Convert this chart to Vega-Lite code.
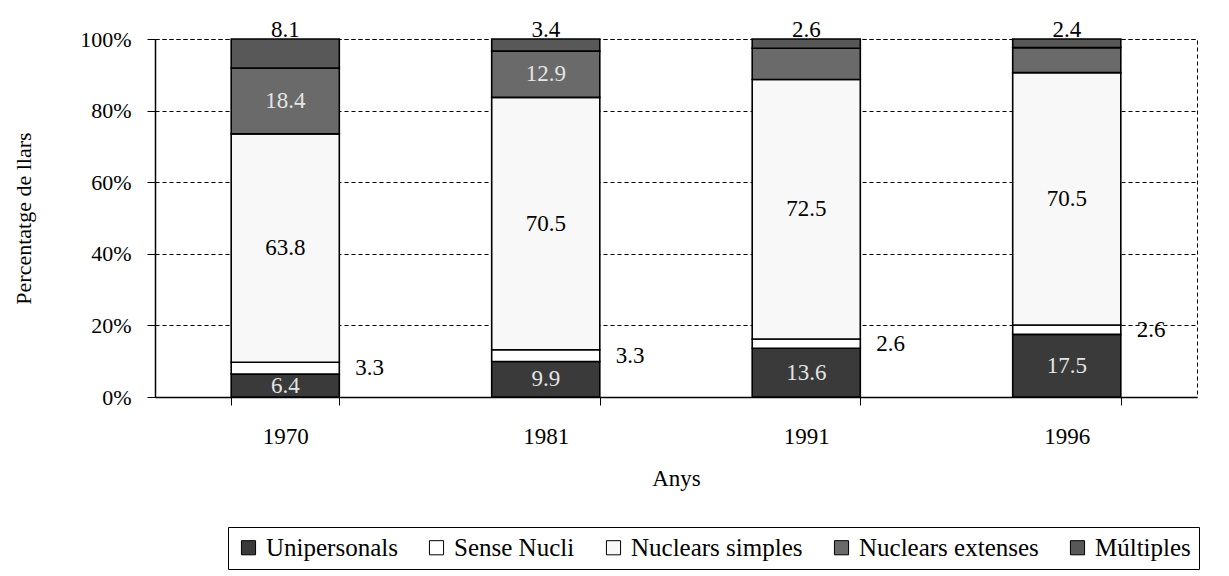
{
  "$schema": "https://vega.github.io/schema/vega-lite/v6.json",
  "width": 1042,
  "height": 358,
  "autosize": {"type": "none"},
  "padding": {"left": 155, "top": 39, "right": 32, "bottom": 179},
  "background": "white",
  "config": {
    "font": "Liberation Serif",
    "view": {"stroke": "black", "strokeDash": [4, 3], "strokeWidth": 1}
  },
  "data": {
    "values": [
      {"year": "1970", "type": "Unipersonals", "ord": 1, "value": 6.4},
      {"year": "1970", "type": "Sense Nucli", "ord": 2, "value": 3.3},
      {"year": "1970", "type": "Nuclears simples", "ord": 3, "value": 63.8},
      {"year": "1970", "type": "Nuclears extenses", "ord": 4, "value": 18.4},
      {"year": "1970", "type": "Múltiples", "ord": 5, "value": 8.1},
      {"year": "1981", "type": "Unipersonals", "ord": 1, "value": 9.9},
      {"year": "1981", "type": "Sense Nucli", "ord": 2, "value": 3.3},
      {"year": "1981", "type": "Nuclears simples", "ord": 3, "value": 70.5},
      {"year": "1981", "type": "Nuclears extenses", "ord": 4, "value": 12.9},
      {"year": "1981", "type": "Múltiples", "ord": 5, "value": 3.4},
      {"year": "1991", "type": "Unipersonals", "ord": 1, "value": 13.6},
      {"year": "1991", "type": "Sense Nucli", "ord": 2, "value": 2.6},
      {"year": "1991", "type": "Nuclears simples", "ord": 3, "value": 72.5},
      {"year": "1991", "type": "Nuclears extenses", "ord": 4, "value": 8.7},
      {"year": "1991", "type": "Múltiples", "ord": 5, "value": 2.6},
      {"year": "1996", "type": "Unipersonals", "ord": 1, "value": 17.5},
      {"year": "1996", "type": "Sense Nucli", "ord": 2, "value": 2.6},
      {"year": "1996", "type": "Nuclears simples", "ord": 3, "value": 70.5},
      {"year": "1996", "type": "Nuclears extenses", "ord": 4, "value": 7.0},
      {"year": "1996", "type": "Múltiples", "ord": 5, "value": 2.4}
    ]
  },
  "transform": [
    {"stack": "value", "groupby": ["year"], "sort": [{"field": "ord"}], "as": ["y0", "y1"]},
    {"calculate": "(datum.y0 + datum.y1) / 2", "as": "mid"}
  ],
  "encoding": {
    "x": {
      "field": "year",
      "type": "ordinal",
      "scale": {"paddingInner": 0.585, "paddingOuter": 0.2925},
      "axis": {
        "title": "Anys",
        "labelAngle": 0,
        "labelFontSize": 23,
        "labelColor": "black",
        "labelPadding": 20,
        "tickBand": "extent",
        "tickSize": 8,
        "tickColor": "black",
        "domainColor": "black",
        "domainWidth": 1.5,
        "titleFontSize": 23,
        "titleFontWeight": "normal",
        "titleColor": "black",
        "titleY": 81,
        "titleBaseline": "middle"
      }
    }
  },
  "layer": [
    {
      "mark": {"type": "bar", "stroke": "black", "strokeWidth": 1.6},
      "encoding": {
        "y": {
          "field": "y1",
          "type": "quantitative",
          "scale": {"domain": [0, 100]},
          "axis": {
            "title": "Percentatge de llars",
            "values": [0, 20, 40, 60, 80, 100],
            "labelExpr": "datum.value + '%'",
            "labelFontSize": 22,
            "labelColor": "black",
            "labelPadding": 16,
            "tickSize": 8,
            "tickColor": "black",
            "domainColor": "black",
            "domainWidth": 1.5,
            "grid": true,
            "gridColor": "black",
            "gridDash": [4, 3],
            "gridWidth": 1.2,
            "titleFontSize": 22,
            "titleFontWeight": "normal",
            "titleColor": "black",
            "titleX": -132,
            "titleY": 179,
            "titleAngle": 270,
            "titleAlign": "center",
            "titleBaseline": "middle"
          }
        },
        "y2": {"field": "y0"},
        "color": {
          "field": "type",
          "type": "nominal",
          "sort": ["Unipersonals", "Sense Nucli", "Nuclears simples", "Nuclears extenses", "Múltiples"],
          "scale": {
            "domain": ["Unipersonals", "Sense Nucli", "Nuclears simples", "Nuclears extenses", "Múltiples"],
            "range": ["#3a3a3a", "#ffffff", "#f8f8f8", "#6a6a6a", "#585858"]
          },
          "legend": {
            "title": null,
            "orient": "none",
            "direction": "horizontal",
            "columns": 5,
            "legendX": 73,
            "legendY": 488,
            "labelFontSize": 25,
            "labelLimit": 0,
            "labelColor": "black",
            "symbolType": "square",
            "symbolSize": 200,
            "symbolStrokeColor": "black",
            "symbolStrokeWidth": 1,
            "symbolOpacity": 1,
            "labelOffset": 5,
            "columnPadding": 26,
            "strokeColor": "black",
            "padding": 8
          }
        },
        "order": {"field": "ord", "type": "quantitative"}
      }
    },
    {
      "transform": [
        {"filter": "datum.type === 'Unipersonals' || datum.type === 'Nuclears simples' || (datum.type === 'Nuclears extenses' && datum.value >= 10)"}
      ],
      "mark": {"type": "text", "fontSize": 23, "baseline": "middle"},
      "encoding": {
        "y": {"field": "mid", "type": "quantitative"},
        "text": {"field": "value", "type": "quantitative", "format": ".1f"},
        "color": {
          "condition": {"test": "datum.type === 'Nuclears simples'", "value": "black"},
          "value": "#e4e4e4"
        }
      }
    },
    {
      "transform": [{"filter": "datum.type === 'Sense Nucli'"}],
      "mark": {"type": "text", "fontSize": 23, "baseline": "middle", "align": "left", "dx": 70, "color": "black"},
      "encoding": {
        "y": {"field": "mid", "type": "quantitative"},
        "text": {"field": "value", "type": "quantitative", "format": ".1f"}
      }
    },
    {
      "transform": [{"filter": "datum.type === 'Múltiples'"}],
      "mark": {"type": "text", "fontSize": 23, "baseline": "bottom", "dy": 3, "color": "black"},
      "encoding": {
        "y": {"field": "y1", "type": "quantitative"},
        "text": {"field": "value", "type": "quantitative", "format": ".1f"}
      }
    }
  ]
}
